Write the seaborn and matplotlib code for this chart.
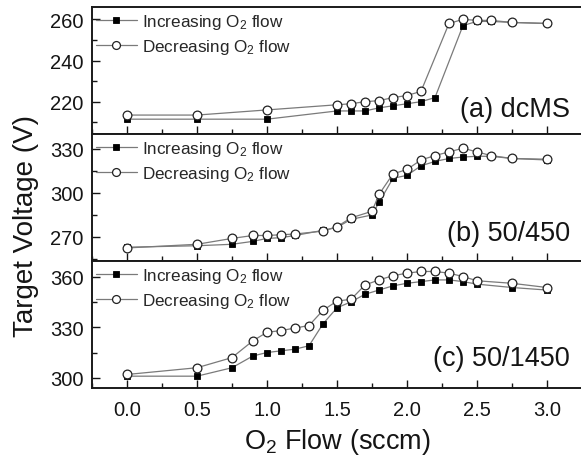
import matplotlib
matplotlib.use("Agg")
import matplotlib.pyplot as plt
from matplotlib.ticker import MultipleLocator
import seaborn as sns

# ---------------- data ----------------
x_a_inc = [0, 0.5, 1.0, 1.5, 1.6, 1.7, 1.8, 1.9, 2.0, 2.1, 2.2, 2.4, 2.5, 2.6, 2.75, 3.0]
v_a_inc = [211.5, 211.5, 211.5, 215.5, 215.5, 215.5, 217, 218, 219, 220, 222, 257, 259, 259, 258.5, 258]
x_a_dec = [0, 0.5, 1.0, 1.5, 1.6, 1.7, 1.8, 1.9, 2.0, 2.1, 2.3, 2.4, 2.5, 2.6, 2.75, 3.0]
v_a_dec = [213.5, 213.5, 216, 218.5, 219, 220, 220.5, 222, 223, 225, 258, 260, 259.5, 259.5, 258.5, 258]

x_b = [0, 0.5, 0.75, 0.9, 1.0, 1.1, 1.2, 1.4, 1.5, 1.6, 1.75, 1.8, 1.9, 2.0, 2.1, 2.2, 2.3, 2.4, 2.5, 2.6, 2.75, 3.0]
v_b_inc = [263, 264, 265, 267, 269, 269.5, 271, 274.5, 276.5, 282, 285, 293.5, 310, 312, 318.5, 321.5, 323.5, 324.5, 325, 325, 323.5, 322.5]
v_b_dec = [262.5, 265, 269, 271, 271, 271.5, 272, 274, 277, 283, 287.5, 299, 313, 316, 322.5, 325.5, 328, 330.5, 328, 325.5, 323.5, 323]

x_c = [0, 0.5, 0.75, 0.9, 1.0, 1.1, 1.2, 1.3, 1.4, 1.5, 1.6, 1.7, 1.8, 1.9, 2.0, 2.1, 2.2, 2.3, 2.4, 2.5, 2.75, 3.0]
v_c_inc = [301, 301, 306, 313, 315, 316, 317, 319, 332, 341.5, 345, 349.5, 352, 354.5, 356, 357, 358, 358, 357, 355.5, 353.5, 352]
v_c_dec = [302, 306, 312, 322, 327, 328, 329.5, 331, 340, 345.5, 346.5, 355, 358, 360.5, 362, 363, 363, 362, 360, 357.5, 356, 353.5]

panel_labels = ["(a) dcMS", "(b) 50/450", "(c) 50/1450"]
legend_labels = ["Increasing O$_2$ flow", "Decreasing O$_2$ flow"]
x_ticks = [0.0, 0.5, 1.0, 1.5, 2.0, 2.5, 3.0]
y_ticks = [[220, 240, 260], [270, 300, 330], [300, 330, 360]]
x_label = "O$_2$ Flow (sccm)"
y_label = "Target Voltage (V)"

# ---------------- style ----------------
sns.set_style("ticks")
plt.rcParams["font.family"] = ["Liberation Sans", "DejaVu Sans"]
plt.rcParams["mathtext.fontset"] = "custom"
plt.rcParams["mathtext.rm"] = "Liberation Sans"
plt.rcParams["mathtext.it"] = "Liberation Sans:italic"
plt.rcParams["mathtext.bf"] = "Liberation Sans:bold"
TXT = "#151515"

fig = plt.figure(figsize=(5.81, 4.56), dpi=100)
gs = fig.add_gridspec(3, 1, left=92/581, right=1.0017, top=1-8/456, bottom=1-389/456, hspace=0)
axes = [fig.add_subplot(gs[i]) for i in range(3)]

series = [
    (x_a_inc, v_a_inc, x_a_dec, v_a_dec, (204.3, 266.0), 10, 0.14),
    (x_b, v_b_inc, x_b, v_b_dec, (253.6, 340.2), 15, 0.165),
    (x_c, v_c_inc, x_c, v_c_dec, (294.0, 369.2), 15, 0.18),
]

for i, (ax, (xi, vi, xd, vd, ylim, minor, ly)) in enumerate(zip(axes, series)):
    sns.lineplot(x=xi, y=vi, ax=ax, color="#7a7a7a", linewidth=0.9, marker="s",
                 markersize=5, markerfacecolor="black", markeredgecolor="black",
                 markeredgewidth=0.6, label=legend_labels[0], sort=False)
    sns.lineplot(x=xd, y=vd, ax=ax, color="#7a7a7a", linewidth=0.9, marker="o",
                 markersize=6.3, markerfacecolor="white", markeredgecolor="#222222",
                 markeredgewidth=0.9, label=legend_labels[1], sort=False)
    ax.set_xlim(-0.25, 3.25)
    ax.set_ylim(*ylim)
    ax.set_xticks(x_ticks)
    ax.xaxis.set_minor_locator(MultipleLocator(0.25))
    ax.set_yticks(y_ticks[i])
    ax.yaxis.set_minor_locator(MultipleLocator(minor))
    ax.tick_params(which="major", direction="in", length=6, width=1.0, colors=TXT,
                   labelsize=14.5, top=False, right=False)
    ax.tick_params(which="minor", direction="in", length=3.5, width=1.0, colors=TXT,
                   top=False, right=False)
    ax.tick_params(axis="y", pad=6)
    ax.tick_params(axis="x", pad=9)
    if i < 2:
        ax.tick_params(axis="x", labelbottom=False)
    for sp in ax.spines.values():
        sp.set_linewidth(1.4)
        sp.set_color("#1a1a1a")
    ax.set_xlabel("")
    ax.set_ylabel("")
    ax.legend(loc="upper left", bbox_to_anchor=(-0.003, 1.0), frameon=False, fontsize=12.3,
              handlelength=2.4, handletextpad=0.3, borderaxespad=0.0, borderpad=0.3,
              labelspacing=0.33, markerscale=0.9)
    ax.text(0.976, ly, panel_labels[i], transform=ax.transAxes, ha="right", va="baseline",
            fontsize=19.5, color=TXT)

fig.text(26/581, 1-226/456, y_label, rotation=90, ha="center", va="center",
         fontsize=20, color=TXT)
fig.text(337/581, 1-449/456, x_label, ha="center", va="baseline", fontsize=19.5, color=TXT)

fig.savefig("out.png", dpi=100)
